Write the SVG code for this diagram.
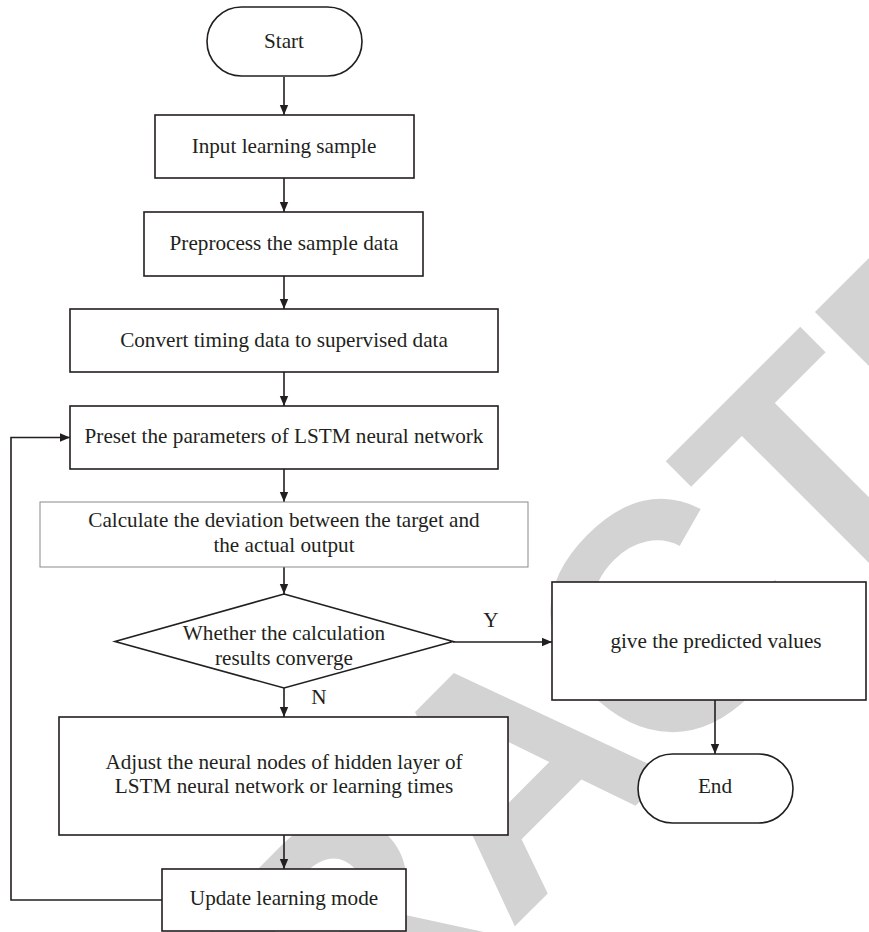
<svg xmlns="http://www.w3.org/2000/svg" width="869" height="932" viewBox="0 0 869 932">
<style>
.bg{fill:#ffffff}
.wm{fill:#d3d3d3;font-family:"Liberation Sans",Arial,sans-serif;font-weight:bold;font-size:323px}
.box{fill:#ffffff;stroke:#231f20;stroke-width:1.6}
.thin{fill:#ffffff;stroke:#8a8a8a;stroke-width:1}
.t{font-family:"Liberation Serif","Times New Roman",serif;font-size:21.2px;fill:#231f20;text-anchor:middle}
.c{fill:none;stroke:#231f20;stroke-width:1.6}
</style>
<defs>
<marker id="ah" viewBox="0 0 10 10" refX="10" refY="5" markerWidth="10" markerHeight="10" markerUnits="userSpaceOnUse" orient="auto">
<path d="M0,0.8 L10,5 L0,9.2 Z" fill="#231f20"/>
</marker>
</defs>
<rect class="bg" x="0" y="0" width="869" height="932"/>
<g id="watermark">
<text class="wm" x="-1177 -944 -729 -532 -299 -86 141 334 549" y="0" transform="translate(720.6,720.6) rotate(-45)">RETRACTED</text>
</g>
<g id="connectors">
<line class="c" x1="284" y1="77" x2="284" y2="115" marker-end="url(#ah)"/>
<line class="c" x1="284" y1="178" x2="284" y2="212" marker-end="url(#ah)"/>
<line class="c" x1="284" y1="276" x2="284" y2="309" marker-end="url(#ah)"/>
<line class="c" x1="284" y1="372" x2="284" y2="406" marker-end="url(#ah)"/>
<line class="c" x1="284" y1="469" x2="284" y2="502" marker-end="url(#ah)"/>
<line class="c" x1="284" y1="567" x2="284" y2="594" marker-end="url(#ah)"/>
<line class="c" x1="284" y1="688" x2="284" y2="717" marker-end="url(#ah)"/>
<line class="c" x1="453" y1="642" x2="552" y2="642" marker-end="url(#ah)"/>
<line class="c" x1="715" y1="700" x2="715" y2="754" marker-end="url(#ah)"/>
<line class="c" x1="284" y1="835" x2="284" y2="869" marker-end="url(#ah)"/>
<polyline class="c" points="162,900 11,900 11,437.5 70,437.5" marker-end="url(#ah)"/>
<text class="t" x="491" y="627">Y</text>
<text class="t" x="319" y="704">N</text>
</g>
<g id="start">
<rect class="box" x="207" y="7" width="155" height="69" rx="34.5" ry="34.5"/>
<text class="t" x="284" y="48">Start</text>
</g>
<g id="input">
<rect class="box" x="155" y="115" width="259" height="63"/>
<text class="t" x="284" y="153">Input learning sample</text>
</g>
<g id="preprocess">
<rect class="box" x="144" y="212" width="279" height="64"/>
<text class="t" x="284" y="250">Preprocess the sample data</text>
</g>
<g id="convert">
<rect class="box" x="70" y="309" width="428" height="63"/>
<text class="t" x="284" y="347">Convert timing data to supervised data</text>
</g>
<g id="preset">
<rect class="box" x="70" y="406" width="428" height="63"/>
<text class="t" x="284" y="443">Preset the parameters of LSTM neural network</text>
</g>
<g id="calculate">
<rect class="thin" x="40" y="502" width="488" height="65"/>
<text class="t" x="284" y="527">Calculate the deviation between the target and</text>
<text class="t" x="284" y="551.5">the actual output</text>
</g>
<g id="decision">
<polygon class="box" points="284,594 453,641.5 284,688 115,641.5"/>
<text class="t" x="284" y="640">Whether the calculation</text>
<text class="t" x="284" y="665">results converge</text>
</g>
<g id="predict">
<rect class="box" x="552" y="582" width="314" height="118"/>
<text class="t" x="716" y="648">give the predicted values</text>
</g>
<g id="end">
<rect class="box" x="638" y="754" width="155" height="69" rx="34.5" ry="34.5"/>
<text class="t" x="715" y="793">End</text>
</g>
<g id="adjust">
<rect class="box" x="59" y="717" width="449" height="118"/>
<text class="t" x="284" y="768.5">Adjust the neural nodes of hidden layer of</text>
<text class="t" x="284" y="793">LSTM neural network or learning times</text>
</g>
<g id="update">
<rect class="box" x="162" y="869" width="244" height="62"/>
<text class="t" x="284" y="905">Update learning mode</text>
</g>
</svg>
